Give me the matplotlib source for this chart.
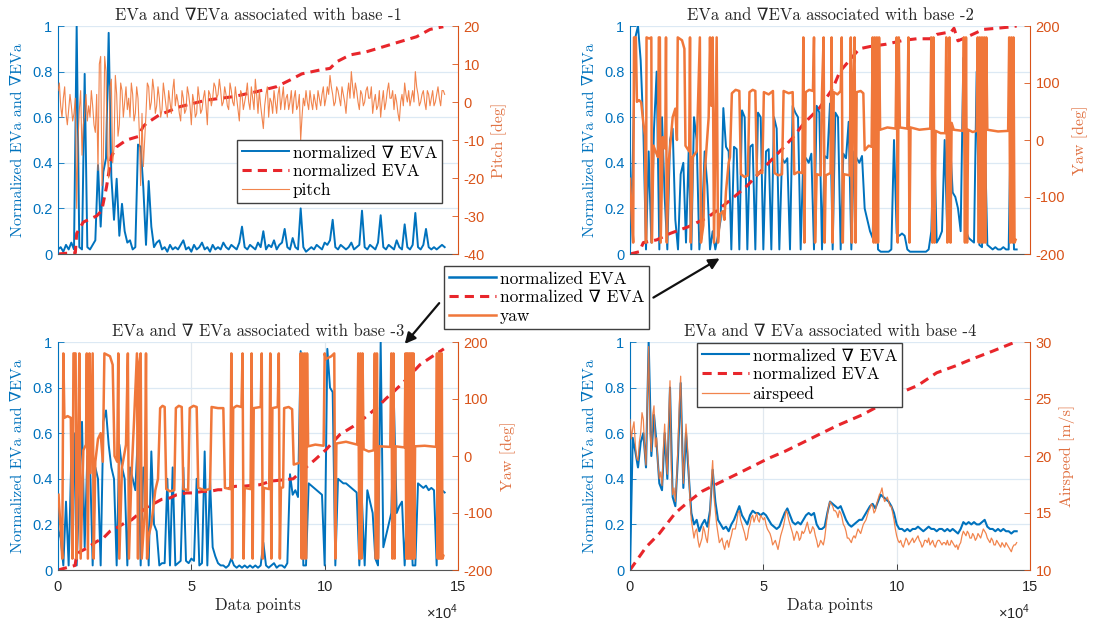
import numpy as np
import matplotlib
matplotlib.use('Agg')
import matplotlib.pyplot as plt
from matplotlib.lines import Line2D
from matplotlib.patches import FancyArrowPatch

plt.rcParams['axes.unicode_minus'] = False
plt.rcParams['mathtext.fontset'] = 'custom'
plt.rcParams['mathtext.rm'] = 'Liberation Sans'

SERIF = ['cmr10', 'DejaVu Serif']
SANS = 'Liberation Sans'
BLUE = '#0072BD'
RED = '#E8262B'
ORANGE = '#F0773A'
AX_ORANGE = '#D95319'
GRID = '#DCE9F4'

# ---- data (x in thousands of data points) ----
idx = np.arange(146)
half = np.arange(145) + 0.5

# base -1
grad1 = [0.02, 0.03, 0.01, 0.04, 0.02, 0.05, 0.02, 1.0, 0.03, 0.02, 0.79, 0.03, 0.02, 0.04, 0.06, 0.39,
         0.12, 0.36, 0.42, 0.97, 0.34, 0.15, 0.33, 0.08, 0.22, 0.1, 0.05, 0.06, 0.02, 0.03, 0.48, 0.47,
         0.29, 0.04, 0.32, 0.12, 0.03, 0.05, 0.06, 0.02, 0.03, 0.01, 0.04, 0.02, 0.03, 0.02, 0.04, 0.06,
         0.02, 0.03, 0.01, 0.04, 0.02, 0.03, 0.05, 0.02, 0.03, 0.01, 0.04, 0.02, 0.03, 0.02, 0.05, 0.03,
         0.02, 0.04, 0.03, 0.02, 0.05, 0.12, 0.03, 0.02, 0.04, 0.03, 0.02, 0.05, 0.03, 0.1, 0.02, 0.04,
         0.03, 0.06, 0.02, 0.04, 0.05, 0.11, 0.03, 0.02, 0.07, 0.03, 0.02, 0.2, 0.03, 0.01, 0.02, 0.03,
         0.02, 0.04, 0.03, 0.02, 0.05, 0.04, 0.06, 0.15, 0.03, 0.02, 0.04, 0.03, 0.02, 0.03, 0.05, 0.02,
         0.03, 0.04, 0.19, 0.03, 0.02, 0.04, 0.03, 0.02, 0.05, 0.17, 0.03, 0.02, 0.04, 0.03, 0.02, 0.06,
         0.03, 0.02, 0.13, 0.03, 0.02, 0.04, 0.18, 0.03, 0.02, 0.04, 0.11, 0.03, 0.02, 0.03, 0.02, 0.03,
         0.04, 0.03]
eva1_x = [0, 3, 6.5, 7, 9.5, 14.5, 16.4, 18.2, 20, 22, 25.7, 30, 32, 33.2, 38, 45.7, 55.7, 65.7, 74.5,
          82, 87, 91.4, 98.2, 102, 104.5, 109.5, 115.7, 122, 128.2, 134.5, 139.5, 144.5]
eva1_y = [0, 0.003, 0.005, 0.09, 0.14, 0.167, 0.19, 0.295, 0.427, 0.47, 0.50, 0.515, 0.56, 0.573, 0.61,
          0.646, 0.675, 0.69, 0.712, 0.734, 0.763, 0.79, 0.807, 0.814, 0.843, 0.873, 0.887, 0.909, 0.931,
          0.953, 0.985, 0.997]
pitch = [3, -1, 1, -3, -2, -1, -3, -28, -2, -14, -3, -5, -4, -1, -8, -18, 12, -15, 8, -20, 6, -12, 2, -6,
         3, 0, -2, -4, 2, -3, 1, -22, -17, -3, 4, 0, 3, -1, 1, -2, 2, -4, 0, 3, -1, 0, -5, 1, -2, 2, -6, 0,
         -3, 1, -2, 3, -6, 2, 1, 4, 2, 3, 0, 2, -2, 3, -1, 1, -5, 2, 0, 5, -2, 1, 6, -3, -1, -7, 2, -4, 0, 3,
         -3, 4, 1, -2, 2, 0, -3, 3, -1, -10, 1, 3, -2, 0, 2, -2, 1, 2, -1, 4, 7, 2, 0, 3, -1, 2, -3, 5, 8, 1,
         3, -2, 2, 0, 4, 1, -3, 2, -1, -4, 3, 0, 5, 1, -2, 0, -5, 2, 5, 0, -1, 3, 8, 2, 0, 3, -2, 2, 1, -1, 2,
         1, 3, 2]
pitch_half = [5, -4, 4, -6, 2, -5, 1, -10, 3, -6, 2, -1, 3, -6, 2, 10, -22, 12, -14, 4, -16, 7, -9, 5,
              -4, 4, 1, 5, -5, 4, -8, -3, -10, 5, -2, 6, -3, 4, -4, 5, -1, 3, -3, 6, 2, -3, 3, -3, 4, -1,
              2, -4, 4, -3, 1, -1, 3, -1, 5, 1, 6, -1, 4, -1, 5, 0, 4, -2, 3, -2, 2, 0, 4, -2, 2, 3, -4,
              -1, 4, 1, -3, 0, 2, -2, 4, 1, -2, 3, 1, -2, 2, -4, -1, 0, 3, -2, 0, 3, -1, 4, 1, 2, 4, -1,
              4, 1, 4, 0, 2, 1, 4, 5, 0, 3, -1, 3, 1, 4, 0, -2, 3, 0, -2, 3, 1, 3, 2, -3, 0, -1, 2, 3, 1,
              0, 4, -1, 2, 0, 3, -1, 3, 0, 4, -1, 3]

# base -2
eva2 = [0.02, 0.4, 0.95, 1.0, 0.85, 0.55, 0.02, 0.45, 0.05, 0.55, 0.8, 0.02, 0.6, 0.25, 0.02, 0.5, 0.55,
        0.15, 0.02, 0.35, 0.4, 0.05, 0.45, 0.02, 0.6, 0.5, 0.02, 0.15, 0.45, 0.3, 0.02, 0.1, 0.02, 0.08,
        0.15, 0.64, 0.47, 0.45, 0.02, 0.47, 0.46, 0.02, 0.63, 0.6, 0.02, 0.47, 0.48, 0.02, 0.62, 0.6, 0.02,
        0.45, 0.46, 0.02, 0.6, 0.55, 0.02, 0.42, 0.4, 0.42, 0.02, 0.65, 0.62, 0.6, 0.02, 0.43, 0.42, 0.4,
        0.44, 0.02, 0.65, 0.62, 0.02, 0.43, 0.42, 0.66, 0.02, 0.62, 0.6, 0.02, 0.44, 0.42, 0.58, 0.02,
        0.45, 0.42, 0.4, 0.43, 0.2, 0.15, 0.1, 0.07, 0.65, 0.02, 0.01, 0.01, 0.01, 0.01, 0.02, 0.5, 0.09,
        0.08, 0.09, 0.08, 0.02, 0.01, 0.01, 0.01, 0.01, 0.01, 0.01, 0.01, 0.02, 0.1, 0.55, 0.05, 0.07,
        0.1, 0.5, 0.08, 0.5, 0.27, 0.25, 0.2, 0.1, 0.86, 0.1, 0.07, 0.06, 0.05, 0.8, 0.04, 0.03, 0.55,
        0.04, 0.03, 0.02, 0.03, 0.02, 0.02, 0.03, 0.02, 0.02, 0.74, 0.02, 0.02]
grad2_x = [0, 3.5, 5, 10, 15, 22, 29, 32, 38, 44, 52, 57, 61, 65, 71, 76, 78.7, 86, 90, 96, 102.5,
           107.5, 112.5, 115, 120.5, 121.5, 123, 126, 132.5, 137.5, 142, 145]
grad2_y = [0, 0.01, 0.05, 0.062, 0.09, 0.12, 0.16, 0.185, 0.24, 0.30, 0.40, 0.46, 0.51, 0.57, 0.64,
           0.725, 0.8, 0.9, 0.91, 0.92, 0.937, 0.944, 0.944, 0.963, 0.975, 0.99, 0.935, 0.95, 0.985,
           0.99, 0.995, 1.0]
yaw2 = [(0, -68), (0.7, -140), (1.2, -180), (1.5, 180), (2.2, 180), (2.6, 67), (3.4, 70), (4.2, 66),
        (5.0, 30), (5.6, 8), (6.0, -180), (6.2, 180), (7.2, 178), (8.0, 180), (8.2, -180), (8.8, -10),
        (9.6, -20), (10.5, -30), (10.8, 180), (11.2, 180), (11.5, -180), (12.3, 5), (13.2, -15),
        (13.5, 180), (13.8, -180), (14.5, -40), (16.0, 40), (17.0, 55), (17.6, 0), (17.9, 180),
        (19.5, 175), (20.4, 160), (20.8, -10), (22.2, -20), (22.5, 180), (22.8, -180), (23.5, -30),
        (25.0, -20), (26.2, 180), (26.6, -180), (27.5, -150), (28.0, -60), (29.5, 40), (30.0, 180),
        (30.5, 60), (31.0, 180), (31.5, -180), (32.5, 180), (33.0, -180), (33.8, -130), (34.8, -125),
        (35.4, -140), (36.0, -90), (37.0, -40), (37.5, -30), (38.2, 82), (39.6, 88), (41.0, 86),
        (41.6, -60), (43.0, -65), (44.2, -62), (44.8, 84), (46.0, 88), (47.0, 86), (47.6, -62),
        (48.6, -56), (49.6, -58), (50.2, 84), (52.0, 80), (53.6, 86), (54.2, -58), (55.6, -62),
        (57.0, -60), (57.6, 86), (59.5, 82), (61.0, 84), (61.6, -60), (63.0, -56), (64.6, -58),
        (65.0, 180), (65.4, -180), (65.9, 84), (67.2, 88), (68.6, 86), (69.0, 180), (69.4, -180),
        (70.0, -60), (71.5, -62), (72.0, 84), (72.6, 180), (73.0, -180), (73.4, -62), (75.2, -58),
        (75.6, 180), (76.0, -180), (76.4, 84), (77.8, 80), (79.0, 86), (79.4, 180), (79.8, -180),
        (80.2, -60), (82.4, -62), (82.8, 180), (83.2, -180), (83.6, 84), (84.2, 180), (84.6, -180),
        (85.0, 84), (86.5, 86), (87.5, 82), (88.0, -18), (89.5, -10), (90.6, -12), (91.0, 180),
        (91.4, -180), (91.8, 180), (92.2, -180), (92.6, 180), (93.0, -180), (93.4, 180), (93.8, 18),
        (96.5, 22), (99.6, 20), (100.0, 180), (100.4, -180), (100.8, 180), (101.2, 22), (104.0, 20),
        (104.4, 180), (104.8, -180), (105.2, 22), (108.5, 18), (112.6, 20), (113.0, 180), (113.4, -180),
        (113.8, 180), (114.2, -180), (114.6, 16), (116.5, 12), (118.2, 12), (118.6, 180), (119.0, -180),
        (119.4, 20), (119.8, 180), (120.2, -180), (120.6, 30), (121.4, 18), (124.8, 16), (125.2, 180),
        (125.6, -180), (126.0, 180), (126.4, -180), (126.8, 18), (128.5, 14), (130.0, 16), (130.4, 180),
        (130.8, -180), (131.2, 180), (131.6, -180), (132.0, 180), (132.4, -180), (132.8, 180),
        (133.2, -180), (133.6, 180), (134.0, 18), (138.0, 15), (141.8, 16), (142.2, 180), (142.6, -180),
        (143.0, 180), (143.4, -180), (143.8, 180), (144.2, -180), (144.6, -175)]

# base -3
eva3 = [0.18, 0.14, 0.02, 0.3, 0.02, 0.5, 0.6, 0.02, 0.35, 0.65, 0.1, 0.5, 0.48, 0.02, 0.45, 0.4, 0.02,
        0.65, 0.7, 0.55, 0.45, 0.4, 0.02, 0.55, 0.45, 0.4, 0.02, 0.45, 0.4, 0.35, 0.6, 0.02, 0.45, 0.4,
        0.02, 0.52, 0.2, 0.17, 0.02, 0.03, 0.03, 0.4, 0.02, 0.45, 0.02, 0.03, 0.04, 0.45, 0.04, 0.03,
        0.05, 0.04, 0.4, 0.02, 0.03, 0.52, 0.02, 0.4, 0.1, 0.06, 0.03, 0.02, 0.02, 0.01, 0.02, 0.05,
        0.02, 0.01, 0.02, 0.01, 0.02, 0.01, 0.02, 0.01, 0.02, 0.01, 0.02, 0.12, 0.02, 0.01, 0.02, 0.03,
        0.01, 0.02, 0.02, 0.01, 0.03, 0.42, 0.33, 0.35, 0.32, 0.96, 0.02, 0.02, 0.38, 0.37, 0.36, 0.35,
        0.34, 0.33, 0.02, 0.97, 0.8, 0.78, 0.02, 0.4, 0.39, 0.38, 0.38, 0.37, 0.36, 0.35, 0.34, 0.02,
        0.3, 0.02, 0.35, 0.3, 0.25, 0.05, 0.02, 1.0, 0.1, 0.15, 0.2, 0.25, 0.72, 0.25, 0.28, 0.3, 0.02,
        0.28, 0.3, 0.02, 0.02, 0.38, 0.37, 0.36, 0.37, 0.35, 0.36, 0.35, 0.02, 0.96, 0.35, 0.34]
grad3_x = [0, 6.4, 7, 8.2, 10.7, 14.5, 17, 19.5, 22, 25, 27.6, 31.4, 33.9, 36.4, 38.9, 42, 44.5, 48.2,
           50.7, 54.5, 57, 60, 62.6, 66.4, 68.9, 75.7, 80, 88.2, 92, 96.4, 100.7, 105.7, 110.7, 116.4,
           120.7, 123.2, 125.7, 130.1, 135.7, 139.5, 144.7]
grad3_y = [0, 0.02, 0.067, 0.08, 0.095, 0.125, 0.14, 0.17, 0.185, 0.206, 0.22, 0.257, 0.28, 0.294, 0.31,
           0.316, 0.33, 0.338, 0.338, 0.345, 0.345, 0.352, 0.352, 0.367, 0.367, 0.374, 0.39, 0.40, 0.44,
           0.484, 0.53, 0.594, 0.63, 0.68, 0.725, 0.754, 0.78, 0.83, 0.9, 0.93, 0.97]
yaw3 = [(0.2, -68), (1.2, -145), (1.6, -180), (2.0, 180), (2.4, 67), (3.6, 70), (4.8, 67), (5.4, -180),
        (5.8, 180), (6.6, 180), (7.0, -180), (7.5, -20), (8.0, 180), (8.5, -180), (9.5, 10), (10.5, 20),
        (10.8, 180), (11.2, -180), (11.8, 180), (12.2, -30), (13.0, 180), (13.4, -180), (14.0, -10),
        (15.0, 30), (16.0, 40), (16.8, -10), (17.4, 180), (19.5, 175), (20.5, 160), (21.2, 0),
        (22.2, -10), (22.6, 180), (23.0, -180), (24.0, -20), (25.5, 20), (26.2, 180), (26.6, -180),
        (27.5, -40), (28.5, 60), (29.6, 180), (30.0, -180), (30.4, 160), (31.0, 180), (31.4, -180),
        (32.5, -100), (33.0, 180), (33.4, -180), (34.0, -140), (35.0, -120), (36.5, -60), (37.5, -40),
        (38.3, 84), (39.2, 88), (40.0, 86), (40.6, -58), (42.0, -62), (43.6, -60), (44.2, 84), (45.3, 88),
        (46.4, 86), (47.0, -58), (48.8, -60), (49.4, 84), (50.8, 88), (52.0, 86), (52.6, -56), (55.0, -60),
        (57.0, -58), (57.6, 86), (60.0, 84), (62.0, 84), (62.6, -56), (64.6, -58), (65.0, 180),
        (65.3, -180), (65.7, 84), (67.0, 88), (68.8, 86), (69.2, 180), (69.6, -180), (70.0, -56),
        (72.2, -58), (72.6, 180), (73.0, -180), (73.4, 84), (76.0, 86), (76.4, 180), (76.8, -180),
        (77.2, -56), (79.2, -58), (79.6, 180), (80.0, -180), (80.4, 84), (82.4, 86), (82.8, 180),
        (83.2, -180), (83.6, -56), (84.4, -55), (84.8, 84), (86.5, 86), (87.8, 82), (88.4, -15),
        (90.6, -12), (91.0, 180), (91.4, -180), (91.8, 180), (92.2, -180), (92.6, 180), (93.0, -180),
        (93.4, 180), (93.8, 17), (96.5, 20), (99.6, 18), (100.0, 180), (100.4, 170), (102.5, 175),
        (103.6, 180), (104.0, -180), (104.4, 22), (108.0, 25), (112.2, 20), (112.6, 180), (113.0, -180),
        (113.4, 180), (113.8, -180), (114.2, 180), (114.6, 12), (116.5, 8), (118.4, 10), (118.8, 180),
        (119.2, -180), (119.6, 180), (120.0, -180), (120.4, 17), (124.6, 16), (125.0, 180), (125.4, -180),
        (125.8, 180), (126.2, -180), (126.6, 17), (130.0, 15), (130.3, 180), (130.6, -180), (130.9, 180),
        (131.2, -180), (131.5, 180), (131.8, -180), (132.1, 180), (132.4, -180), (132.7, 180),
        (133.0, -180), (133.3, 180), (133.6, -180), (133.9, 17), (137.5, 18), (141.8, 16), (142.1, 180),
        (142.4, -180), (142.7, 180), (143.0, -180), (143.3, 180), (143.6, -180), (143.9, 180),
        (144.2, -180), (144.5, -175)]

# base -4
grad4 = [0.0, 0.58, 0.52, 0.45, 0.56, 0.6, 0.45, 1.0, 0.5, 0.68, 0.55, 0.38, 0.35, 0.6, 0.4, 0.8, 0.32,
         0.28, 0.5, 0.82, 0.36, 0.6, 0.42, 0.25, 0.2, 0.22, 0.17, 0.2, 0.22, 0.19, 0.26, 0.44, 0.3, 0.22,
         0.2, 0.18, 0.19, 0.17, 0.2, 0.22, 0.25, 0.28, 0.24, 0.22, 0.2, 0.24, 0.26, 0.25, 0.25, 0.24, 0.25,
         0.24, 0.22, 0.2, 0.19, 0.18, 0.19, 0.22, 0.25, 0.27, 0.24, 0.21, 0.2, 0.21, 0.2, 0.22, 0.24, 0.25,
         0.24, 0.25, 0.2, 0.18, 0.18, 0.19, 0.25, 0.3, 0.29, 0.28, 0.27, 0.28, 0.25, 0.22, 0.2, 0.19, 0.2,
         0.21, 0.22, 0.22, 0.24, 0.26, 0.28, 0.29, 0.27, 0.3, 0.33, 0.32, 0.31, 0.3, 0.28, 0.25, 0.2, 0.18,
         0.18, 0.17, 0.18, 0.17, 0.18, 0.18, 0.19, 0.18, 0.17, 0.18, 0.19, 0.18, 0.18, 0.17, 0.18, 0.18,
         0.17, 0.18, 0.17, 0.18, 0.17, 0.16, 0.18, 0.21, 0.2, 0.21, 0.2, 0.21, 0.2, 0.2, 0.21, 0.22, 0.19,
         0.18, 0.18, 0.17, 0.18, 0.17, 0.18, 0.17, 0.17, 0.16, 0.17, 0.17]
eva4_x = [0, 3, 6, 11, 17, 22, 27, 33, 40, 46, 52, 58, 65, 71, 78, 87, 95, 100, 108, 115, 122, 128, 136,
          144.5]
eva4_y = [0, 0.05, 0.1, 0.16, 0.25, 0.3, 0.345, 0.38, 0.42, 0.455, 0.49, 0.52, 0.56, 0.595, 0.635, 0.68,
          0.73, 0.77, 0.81, 0.865, 0.895, 0.924, 0.96, 1.0]
airspeed = [23.2, 22.4, 21.0, 19.6, 22.0, 23.2, 19.2, 29.6, 20.4, 24.4, 21.6, 18.0, 17.4, 22.8, 18.4,
            26.6, 16.6, 16.0, 21.0, 27.0, 17.6, 22.8, 18.8, 14.4, 12.8, 13.6, 12.0, 12.8, 13.4, 12.4,
            14.8, 19.6, 15.2, 13.2, 12.6, 12.2, 12.4, 12.0, 13.0, 13.6, 14.2, 15.2, 14.0, 13.2, 12.8,
            14.0, 14.8, 14.6, 14.4, 14.8, 14.4, 14.0, 13.4, 12.8, 12.4, 12.2, 12.4, 13.4, 14.4, 15.0,
            14.0, 13.2, 13.0, 13.2, 12.8, 13.2, 13.8, 13.6, 13.4, 13.6, 12.6, 12.2, 12.4, 12.8, 14.8,
            16.0, 15.6, 15.2, 14.6, 15.0, 14.0, 13.4, 12.8, 12.4, 13.0, 13.2, 13.4, 13.6, 14.2, 14.8,
            15.4, 15.6, 15.2, 16.2, 16.8, 16.4, 16.2, 16.0, 15.6, 14.4, 13.0, 12.4, 12.2, 12.4, 12.6,
            12.4, 12.8, 12.6, 13.0, 12.4, 12.2, 12.6, 12.8, 12.4, 12.2, 12.4, 12.6, 12.2, 12.4, 12.6,
            12.2, 12.4, 12.0, 11.8, 12.4, 13.4, 13.0, 13.2, 12.8, 13.0, 12.8, 13.0, 13.2, 13.4, 12.8,
            12.4, 12.6, 12.2, 12.4, 12.0, 12.2, 12.4, 12.0, 11.6, 12.2, 12.4]
airspeed_half = [21.5, 23.0, 19.8, 21.2, 23.8, 20.6, 25.0, 22.0, 23.6, 20.8, 19.2, 18.6, 20.6, 20.0, 23.2,
                 18.8, 17.2, 18.0, 24.6, 21.0, 20.2, 21.0, 16.2, 13.6, 13.4, 12.6, 12.4, 13.8, 12.8, 13.6,
                 17.8, 16.4, 14.0, 12.4, 12.8, 11.8, 12.6, 12.6, 13.6, 13.6, 15.0, 14.4, 13.6, 12.6, 13.6,
                 14.6, 14.2, 15.0, 14.2, 14.6, 14.6, 13.6, 13.2, 12.2, 12.6, 11.8, 13.0, 13.8, 15.2, 14.4,
                 13.6, 12.6, 13.4, 12.6, 13.4, 13.4, 14.2, 13.2, 13.8, 13.0, 12.0, 12.6, 12.2, 13.8, 15.6,
                 15.8, 15.2, 15.0, 15.2, 14.6, 13.8, 12.8, 12.6, 12.8, 12.8, 13.6, 13.2, 14.0, 14.4, 15.2,
                 15.8, 15.0, 15.8, 16.6, 17.2, 16.0, 16.4, 15.6, 15.0, 13.6, 12.6, 12.6, 12.0, 12.8, 12.2,
                 12.6, 12.4, 12.8, 12.6, 12.0, 12.6, 12.4, 12.2, 12.6, 12.0, 12.6, 12.4, 12.4, 12.2, 12.2,
                 12.6, 12.2, 12.2, 12.2, 13.0, 13.2, 13.4, 12.8, 13.2, 12.6, 13.2, 12.8, 13.6, 13.2, 12.6,
                 12.8, 12.2, 12.6, 12.2, 12.4, 12.0, 12.2, 11.8, 12.0, 12.2]

left_ticks = [0, 0.2, 0.4, 0.6, 0.8, 1]
left_labels = ['0', '0.2', '0.4', '0.6', '0.8', '1']
x_ticks = [0, 50, 100, 150]
x_labels = ['0', '5', '10', '15']


def interleave(full, mid):
    out = np.empty(len(full) + len(mid))
    out[0::2] = full
    out[1::2] = mid
    return out


fine_x = interleave(idx, half)

fig = plt.figure(figsize=(10.97, 6.2), dpi=100)
W, H = 1097, 620


def rect(x0, y0, w, h):
    return [x0 / W, 1 - (y0 + h) / H, w / W, h / H]


def setup(ax, ax2, title, rlabel, rlim, rticks, bottom_row):
    ax.set_xlim(0, 150)
    ax.set_ylim(0, 1)
    ax.set_yticks(left_ticks)
    ax.set_yticklabels(left_labels, fontfamily=SANS)
    ax.set_axisbelow(True)
    ax.grid(axis='y', color=GRID, lw=0.9)
    ax.tick_params(axis='y', direction='in', length=4, width=0.6, colors=BLUE, labelsize=10.5, pad=4)
    if bottom_row:
        ax.set_xticks(x_ticks)
        ax.set_xticklabels(x_labels, fontfamily=SANS)
        ax.grid(axis='x', color='#E1E8EF', lw=0.9)
        ax.tick_params(axis='x', direction='in', length=4, width=0.6, colors='#262626',
                       labelcolor='#262626', labelsize=10.5, pad=7)
        ax.set_xlabel('Data points', fontfamily=SERIF, fontsize=12, color='#262626', labelpad=3)
        ax.text(1.0, -0.185, r'$\times10^{4}$', transform=ax.transAxes, ha='right', va='center',
                fontsize=10.5, color='#262626')
    else:
        ax.set_xticks([])
    for s in ['top', 'right']:
        ax.spines[s].set_visible(False)
    ax.spines['left'].set_color(BLUE)
    ax.spines['left'].set_linewidth(0.8)
    ax.spines['bottom'].set_color('#555555')
    ax.spines['bottom'].set_linewidth(0.8)
    ax.set_ylabel('Normalized EVa and \u2207EVa', fontfamily=SERIF, fontsize=11.5, color=BLUE, labelpad=5)
    ax.set_title(title, fontfamily=SERIF, fontsize=12, color='#262626', pad=4)

    ax2.set_ylim(*rlim)
    ax2.set_yticks(rticks)
    ax2.set_yticklabels([str(t) for t in rticks], fontfamily=SANS)
    ax2.tick_params(axis='y', direction='in', length=4, width=0.6, colors=AX_ORANGE, labelsize=10.5, pad=4)
    for s in ['top', 'left', 'bottom']:
        ax2.spines[s].set_visible(False)
    ax2.spines['right'].set_color(AX_ORANGE)
    ax2.spines['right'].set_linewidth(0.8)
    ax2.set_ylabel(rlabel, fontfamily=SERIF, fontsize=11.5, color='#E07040', labelpad=5)


leg_kw = dict(prop={'family': SERIF, 'size': 12.5}, loc='upper left', borderaxespad=0,
              fancybox=False, framealpha=1, edgecolor='#404040', handlelength=2.7,
              handletextpad=0.2, labelspacing=0.2, borderpad=0.3)

# panel 1
ax = fig.add_axes(rect(58, 26, 400, 228))
ax2 = ax.twinx()
l1, = ax.plot(idx, grad1, color=BLUE, lw=1.4)
l2, = ax.plot(eva1_x, eva1_y, color=RED, lw=2.2, ls=(0, (3, 2)))
l3, = ax2.plot(fine_x, interleave(pitch, pitch_half), color=ORANGE, lw=0.8, alpha=0.9)
setup(ax, ax2, 'EVa and \u2207EVa associated with base -1', 'Pitch [deg]', (-40, 20),
      [-40, -30, -20, -10, 0, 10, 20], False)
ax2.legend([l1, l2, l3], ['normalized \u2207 EVA', 'normalized EVA', 'pitch'],
           bbox_to_anchor=(237 / W, 1 - 140 / H), bbox_transform=fig.transFigure, **leg_kw)

# panel 2
ax = fig.add_axes(rect(630, 26, 400, 228))
ax2 = ax.twinx()
ax.plot(idx, eva2, color=BLUE, lw=1.4)
ax.plot(grad2_x, grad2_y, color=RED, lw=2.2, ls=(0, (3, 2)))
ax2.plot([p[0] for p in yaw2], [p[1] for p in yaw2], color=ORANGE, lw=1.8)
setup(ax, ax2, 'EVa and \u2207EVa associated with base -2', 'Yaw [deg]', (-200, 200),
      [-200, -100, 0, 100, 200], False)

# panel 3
ax = fig.add_axes(rect(58, 342, 400, 228))
ax2 = ax.twinx()
ax.plot(idx, eva3, color=BLUE, lw=1.4)
ax.plot(grad3_x, grad3_y, color=RED, lw=2.2, ls=(0, (3, 2)))
ax2.plot([p[0] for p in yaw3], [p[1] for p in yaw3], color=ORANGE, lw=1.8)
setup(ax, ax2, 'EVa and \u2207 EVa associated with base -3', 'Yaw [deg]', (-200, 200),
      [-200, -100, 0, 100, 200], True)

# panel 4
ax = fig.add_axes(rect(630, 342, 400, 228))
ax2 = ax.twinx()
m1, = ax.plot(idx, grad4, color=BLUE, lw=1.5)
m2, = ax.plot(eva4_x, eva4_y, color=RED, lw=2.2, ls=(0, (3, 2)))
m3, = ax2.plot(fine_x, interleave(airspeed, airspeed_half), color=ORANGE, lw=0.9, alpha=0.9)
setup(ax, ax2, 'EVa and \u2207 EVa associated with base -4', 'Airspeed [m/s]', (10, 30),
      [10, 15, 20, 25, 30], True)
ax2.legend([m1, m2, m3], ['normalized \u2207 EVA', 'normalized EVA', 'airspeed'],
           bbox_to_anchor=(697 / W, 1 - 343 / H), bbox_transform=fig.transFigure, **leg_kw)

# shared legend in the middle with arrows
h1 = Line2D([], [], color=BLUE, lw=1.8)
h2 = Line2D([], [], color=RED, lw=2.2, ls=(0, (3, 2)))
h3 = Line2D([], [], color=ORANGE, lw=1.8)
fig.legend([h1, h2, h3], ['normalized EVA', 'normalized \u2207 EVA', 'yaw'],
           bbox_to_anchor=(444 / W, 1 - 266 / H), **leg_kw)

for (xa, ya), (xb, yb) in [((441, 301), (403, 346)), ((651, 299), (722, 257))]:
    fig.add_artist(FancyArrowPatch((xa / W, 1 - ya / H), (xb / W, 1 - yb / H),
                                   transform=fig.transFigure, arrowstyle='-|>',
                                   mutation_scale=16, color='#111111', lw=1.6))

fig.savefig('out.png', dpi=100)
